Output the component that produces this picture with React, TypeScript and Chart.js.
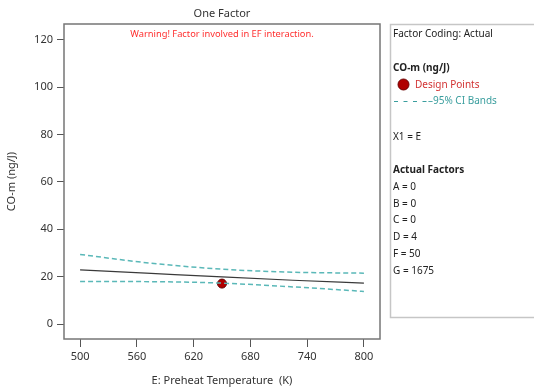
import React, { useEffect, useRef } from "react";
import { Chart, registerables } from "chart.js";

Chart.register(...registerables);

// ---- data ----
const xValues = [500, 575, 650, 725, 800];
const predicted = [22.9, 21.4, 19.9, 18.5, 17.3];
const upperCI = [29.4, 25.7, 23.2, 21.9, 21.5];
const lowerCI = [18.0, 17.9, 17.3, 15.7, 13.8];
const designX = [650];
const designY = [17.1];
const xTicks = [500, 560, 620, 680, 740, 800];
const yTicks = [0, 20, 40, 60, 80, 100, 120];
const factorLabels = ["A = 0", "B = 0", "C = 0", "D = 4", "F = 50", "G = 1675"];

const chartTitle = "One Factor";
const warningText = "Warning! Factor involved in EF interaction.";
const xTitle = "E: Preheat Temperature  (K)";
const yTitle = "CO-m (ng/J)";

const FONT = "'Noto Sans', 'Open Sans', sans-serif";

const panelPlugin = {
  id: "panelPlugin",
  afterDraw(chart: any) {
    const { ctx, chartArea } = chart;
    const { left, right, top, bottom } = chartArea;
    ctx.save();
    // plot frame
    ctx.strokeStyle = "#767676";
    ctx.lineWidth = 1.5;
    ctx.strokeRect(left, top, right - left, bottom - top);

    const cx = (left + right) / 2;
    ctx.textBaseline = "middle";
    ctx.textAlign = "center";
    ctx.font = `11px ${FONT}`;
    ctx.fillStyle = "#333";
    ctx.fillText(chartTitle, cx, 14);
    ctx.font = `9.3px ${FONT}`;
    ctx.fillStyle = "#ff2f2f";
    ctx.fillText(warningText, cx, 34);

    // right panel
    ctx.strokeStyle = "#c6c6c6";
    ctx.lineWidth = 1.5;
    ctx.strokeRect(390.5, 24.5, 170, 293);

    const px = 393;
    ctx.textAlign = "left";
    ctx.fillStyle = "#222";
    ctx.font = `10px ${FONT}`;
    ctx.fillText("Factor Coding: Actual", px, 34);
    ctx.font = `bold 10px ${FONT}`;
    ctx.fillText("CO-m (ng/J)", px, 68);

    ctx.beginPath();
    ctx.arc(403.5, 84.5, 5.5, 0, Math.PI * 2);
    ctx.fillStyle = "#b00000";
    ctx.fill();
    ctx.strokeStyle = "#6a0000";
    ctx.lineWidth = 1;
    ctx.stroke();
    ctx.font = `10px ${FONT}`;
    ctx.fillStyle = "#d23232";
    ctx.fillText("Design Points", 415, 85);

    ctx.strokeStyle = "#3a9e9e";
    ctx.lineWidth = 1;
    ctx.setLineDash([4, 5.5]);
    ctx.beginPath();
    ctx.moveTo(394, 101.5);
    ctx.lineTo(428, 101.5);
    ctx.stroke();
    ctx.setLineDash([]);
    ctx.fillStyle = "#3a9e9e";
    ctx.fillText("\u201395% CI Bands", 428, 101);

    ctx.fillStyle = "#222";
    ctx.fillText("X1 = E", px, 137);
    ctx.font = `bold 10px ${FONT}`;
    ctx.fillText("Actual Factors", px, 170);
    ctx.font = `10px ${FONT}`;
    factorLabels.forEach((t, i) => {
      ctx.fillText(t, px, 187 + i * 16.8);
    });
    ctx.restore();
  },
};

export default function App() {
  const ref = useRef<HTMLCanvasElement | null>(null);
  useEffect(() => {
    if (!ref.current) return;
    const tickFont = { family: FONT, size: 11 };
    const chart = new Chart(ref.current, {
      type: "scatter",
      data: {
        datasets: [
          {
            label: "Predicted",
            data: xValues.map((x, i) => ({ x, y: predicted[i] })),
            showLine: true,
            borderColor: "#3a3a3a",
            borderWidth: 1.2,
            pointRadius: 0,
            cubicInterpolationMode: "monotone",
          } as any,
          {
            label: "Upper CI",
            data: xValues.map((x, i) => ({ x, y: upperCI[i] })),
            showLine: true,
            borderColor: "#5ab8b8",
            borderWidth: 1.5,
            borderDash: [5, 3],
            pointRadius: 0,
            cubicInterpolationMode: "monotone",
          } as any,
          {
            label: "Lower CI",
            data: xValues.map((x, i) => ({ x, y: lowerCI[i] })),
            showLine: true,
            borderColor: "#5ab8b8",
            borderWidth: 1.5,
            borderDash: [5, 3],
            pointRadius: 0,
            cubicInterpolationMode: "monotone",
          } as any,
          {
            label: "Design Points",
            data: designX.map((x, i) => ({ x, y: designY[i] })),
            pointRadius: 4.5,
            pointBackgroundColor: "#b00000",
            pointBorderColor: "#600000",
            pointBorderWidth: 1,
          },
        ],
      },
      options: {
        animation: false,
        responsive: false,
        devicePixelRatio: 1,
        layout: { padding: { top: 24, right: 154, left: 0, bottom: 0 } },
        plugins: { legend: { display: false }, tooltip: { enabled: false }, title: { display: false } },
        scales: {
          x: {
            type: "linear",
            min: 483,
            max: 817,
            afterBuildTicks: (s: any) => {
              s.ticks = xTicks.map((v) => ({ value: v }));
            },
            afterFit: (s: any) => {
              s.height = 51;
            },
            grid: { drawOnChartArea: false, drawTicks: true, tickLength: 8, color: "#555" },
            border: { display: false },
            ticks: { font: tickFont, color: "#333", padding: 3, maxRotation: 0, autoSkip: false },
            title: { display: true, text: xTitle, font: tickFont, color: "#333", padding: { top: 0, bottom: 3 } },
          },
          y: {
            type: "linear",
            min: -6.3,
            max: 126.7,
            afterBuildTicks: (s: any) => {
              s.ticks = yTicks.map((v) => ({ value: v }));
            },
            afterFit: (s: any) => {
              s.width = 64;
            },
            grid: { drawOnChartArea: false, drawTicks: true, tickLength: 7, color: "#555" },
            border: { display: false },
            ticks: { font: tickFont, color: "#333", padding: 4, autoSkip: false },
            title: { display: true, text: yTitle, font: tickFont, color: "#333", padding: { top: 5, bottom: 0 } },
          },
        },
      } as any,
      plugins: [panelPlugin],
    });
    return () => chart.destroy();
  }, []);
  return (
    <div style={{ position: "absolute", left: 0, top: 0, width: 534, height: 390, background: "#fff" }}>
      <canvas ref={ref} width={534} height={390} style={{ width: 534, height: 390, display: "block" }} />
    </div>
  );
}
